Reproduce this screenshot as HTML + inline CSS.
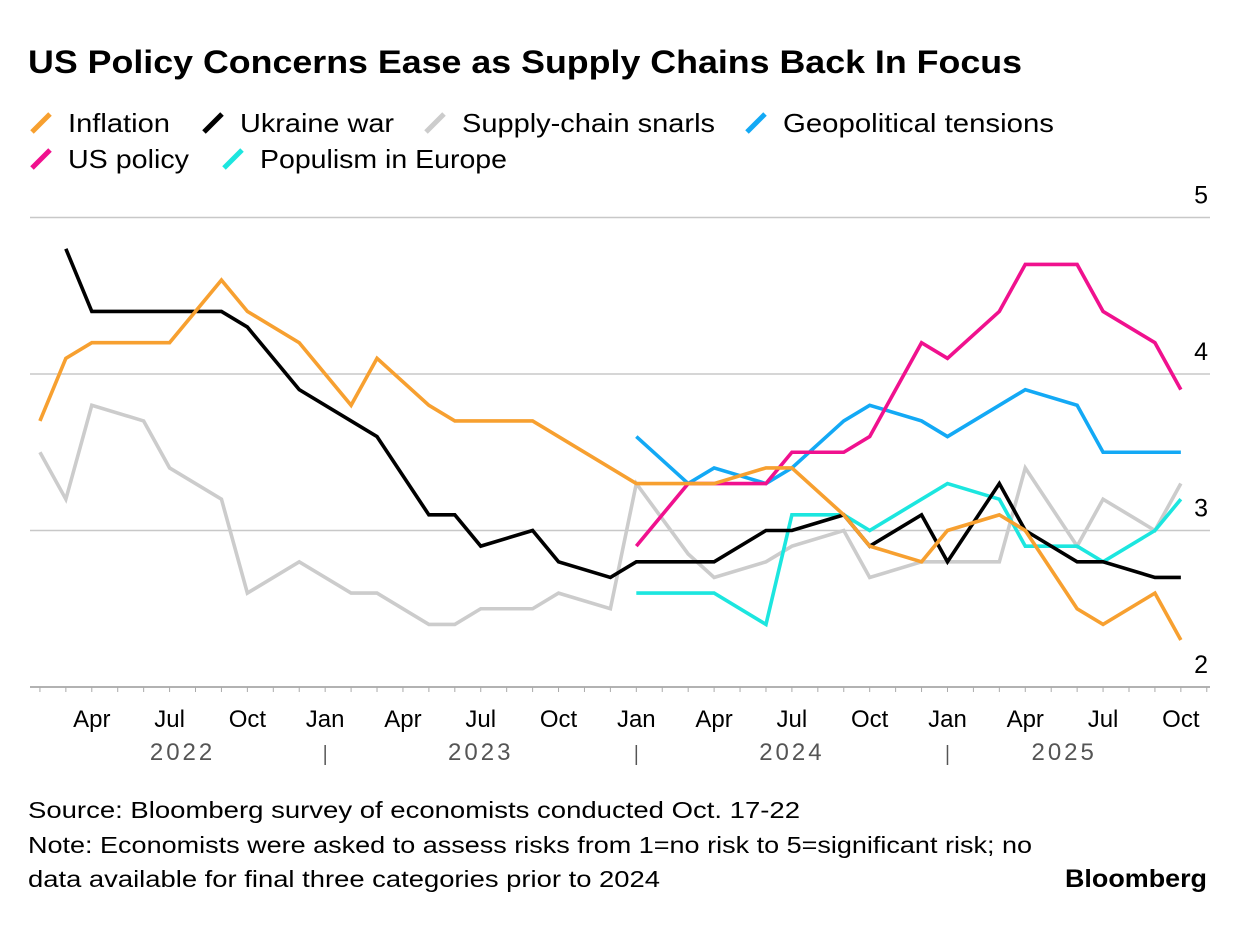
<!DOCTYPE html>
<html><head><meta charset="utf-8"><style>
body{margin:0;background:#fff;width:1237px;height:920px;overflow:hidden;font-family:"Liberation Sans",sans-serif;}
</style></head><body>
<svg width="1237" height="920" xmlns="http://www.w3.org/2000/svg" font-family="Liberation Sans, sans-serif">
<text x="28" y="73" font-size="32" font-weight="bold" fill="#000" textLength="994" lengthAdjust="spacingAndGlyphs">US Policy Concerns Ease as Supply Chains Back In Focus</text>
<g id="legend"></g>
<g id="grid"></g>
<g id="series"></g>
<g id="axis"></g>
<text x="28" y="818" font-size="23" fill="#000" textLength="772" lengthAdjust="spacingAndGlyphs">Source: Bloomberg survey of economists conducted Oct. 17-22</text>
<text x="28" y="853" font-size="23" fill="#000" textLength="1004" lengthAdjust="spacingAndGlyphs">Note: Economists were asked to assess risks from 1=no risk to 5=significant risk; no</text>
<text x="28" y="887" font-size="23" fill="#000" textLength="632" lengthAdjust="spacingAndGlyphs">data available for final three categories prior to 2024</text>
<text x="1065" y="887" font-size="25" font-weight="bold" fill="#000" textLength="142" lengthAdjust="spacingAndGlyphs">Bloomberg</text>
</svg>
<script>
const seriesNames=["Inflation","Ukraine war","Supply-chain snarls","Geopolitical tensions","US policy","Populism in Europe"];
const seriesColors=["#f7a030","#000000","#cccccc","#13a9f5","#f0118e","#1ce6df"];
const inflationMonths=[1,2,3,6,8,9,11,13,14,16,17,20,24,27,29,30,32,33,35,36,38,39,41,42,44,45];
const inflationValues=[3.7,4.1,4.2,4.2,4.6,4.4,4.2,3.8,4.1,3.8,3.7,3.7,3.3,3.3,3.4,3.4,3.1,2.9,2.8,3.0,3.1,3.0,2.5,2.4,2.6,2.3];
const ukraineMonths=[2,3,8,9,11,13,14,16,17,18,20,21,23,24,27,29,30,32,33,35,36,38,39,41,42,44,45];
const ukraineValues=[4.8,4.4,4.4,4.3,3.9,3.7,3.6,3.1,3.1,2.9,3.0,2.8,2.7,2.8,2.8,3.0,3.0,3.1,2.9,3.1,2.8,3.3,3.0,2.8,2.8,2.7,2.7];
const supplyMonths=[1,2,3,5,6,8,9,11,13,14,16,17,18,20,21,23,24,26,27,29,30,32,33,35,36,38,39,41,42,44,45];
const supplyValues=[3.5,3.2,3.8,3.7,3.4,3.2,2.6,2.8,2.6,2.6,2.4,2.4,2.5,2.5,2.6,2.5,3.3,2.85,2.7,2.8,2.9,3.0,2.7,2.8,2.8,2.8,3.4,2.9,3.2,3.0,3.3];
const geoMonths=[24,26,27,29,30,32,33,35,36,39,41,42,44,45];
const geoValues=[3.6,3.3,3.4,3.3,3.4,3.7,3.8,3.7,3.6,3.9,3.8,3.5,3.5,3.5];
const usMonths=[24,26,27,29,30,32,33,35,36,38,39,41,42,44,45];
const usValues=[2.9,3.3,3.3,3.3,3.5,3.5,3.6,4.2,4.1,4.4,4.7,4.7,4.4,4.2,3.9];
const popMonths=[24,27,29,30,32,33,36,38,39,41,42,44,45];
const popValues=[2.6,2.6,2.4,3.1,3.1,3.0,3.3,3.2,2.9,2.9,2.8,3.0,3.2];
const yTicks=[2,3,4,5];
const monthTickLabels=["Apr","Jul","Oct","Jan","Apr","Jul","Oct","Jan","Apr","Jul","Oct","Jan","Apr","Jul","Oct"];
const monthTickIdx=[3,6,9,12,15,18,21,24,27,30,33,36,39,42,45];
const yearLabels=["2022","2023","2024","2025"];
const yearCenters=[6.5,18,30,40.5];
const yearSeps=[12,24,36];

const NS="http://www.w3.org/2000/svg";
const xS=m=>14+25.93*m;
const yS=v=>687-(v-2)*156.5;
function mk(tag,attrs,parent,txt){const e=document.createElementNS(NS,tag);for(const k in attrs)e.setAttribute(k,attrs[k]);if(txt!==undefined)e.textContent=txt;parent.appendChild(e);return e;}
const grid=document.getElementById('grid'),axis=document.getElementById('axis'),ser=document.getElementById('series'),leg=document.getElementById('legend');
yTicks.forEach(v=>{
  if(v>2){const l=mk('line',{x1:30,x2:1210,y1:yS(v),y2:yS(v),stroke:'#c8c8c8','stroke-width':1.5},grid);
  
  }
  const t=mk('text',{x:1208,y:yS(v)-14,'font-size':25,'text-anchor':'end',fill:'#000'},axis,String(v));
  
  
});
const base=mk('line',{x1:30,x2:1210,y1:687,y2:687,stroke:'#999','stroke-width':1.5},axis);


for(let m=1;m<=46;m++){const tk=mk('line',{x1:xS(m),x2:xS(m),y1:687,y2:692,stroke:'#aaa','stroke-width':1},axis);

}
monthTickLabels.forEach((s,i)=>{const t=mk('text',{x:xS(monthTickIdx[i]),y:727,'font-size':24,'text-anchor':'middle',fill:'#000'},axis,s);

});
yearLabels.forEach((s,i)=>{const t=mk('text',{x:xS(yearCenters[i]),y:760,'font-size':24,'text-anchor':'middle',fill:'#555','letter-spacing':'3'},axis,s);

});
yearSeps.forEach(m=>{const l=mk('line',{x1:xS(m),x2:xS(m),y1:745,y2:765,stroke:'#555','stroke-width':1.5},axis);

});
const data=[[inflationMonths,inflationValues],[ukraineMonths,ukraineValues],[supplyMonths,supplyValues],[geoMonths,geoValues],[usMonths,usValues],[popMonths,popValues]];
const order=[2,5,3,4,1,0];
order.forEach(i=>{const [ms,vs]=data[i];
  const p=mk('polyline',{points:ms.map((m,j)=>xS(m)+','+yS(vs[j])).join(' '),fill:'none',stroke:seriesColors[i],'stroke-width':3.6,'stroke-linejoin':'miter'},ser);
  
  
});
const legPos=[[30,122],[202,122],[424,122],[745,122],[30,158],[222,158]];
const legLen=[102,154,253,271,121,247];
seriesNames.forEach((n,i)=>{const [x,y]=legPos[i];
  const g=mk('g',{},leg);
  
  
  mk('line',{x1:x+2,y1:y+10,x2:x+20,y2:y-8,stroke:seriesColors[i],'stroke-width':5},g);
  mk('text',{x:x+38,y:y+10,'font-size':26,fill:'#000',textLength:legLen[i],lengthAdjust:'spacingAndGlyphs'},g,n);
});
</script>
</body></html>
